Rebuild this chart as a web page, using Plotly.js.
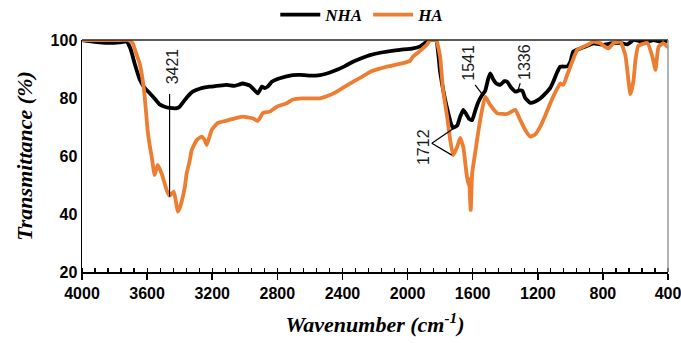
<!DOCTYPE html>
<html>
<head>
<meta charset="utf-8">
<script src="https://cdn.plot.ly/plotly-3.0.1.min.js"></script>
<style>html,body{margin:0;padding:0;background:#fff;}#chart{width:681px;height:343px;}</style>
</head>
<body>
<div id="chart"></div>
<script>
// NHA series (black)
const nhaWavenumber = [4000,3954,3892,3831,3769,3726,3702,3677,3646,3615,3585,3554,3523,3492,3462,3418,3400,3382,3351,3320,3277,3215,3154,3111,3062,3012,2969,2951,2920,2895,2877,2858,2834,2785,2705,2662,2600,2538,2477,2434,2385,2335,2280,2231,2169,2126,2046,1966,1923,1892,1862,1825,1800,1775,1751,1732,1720,1695,1677,1658,1640,1622,1603,1585,1566,1542,1523,1505,1492,1474,1455,1431,1406,1388,1363,1338,1314,1295,1277,1246,1215,1185,1154,1123,1105,1080,1062,1019,1000,982,938,895,858,797,754,692,649,612,569,526,489,446,428,403,400];
const nhaTransmittance = [100,99.6,99.2,99,99.2,99.5,97,92,86.5,83.5,81.7,79.8,77.8,77,76.6,76.5,77,78.3,80.5,82.2,83.2,83.9,84.3,84.5,84.2,85,84.3,83.3,81.6,83.9,83.4,84,85.6,86.8,87.9,88,87.7,87.9,88.8,89.7,91,92.5,93.8,94.8,95.6,96,96.6,97.1,97.8,99,100,100,89,81,75,71,69.7,70.5,73.5,75.9,74.5,72.8,72.4,75.5,78.5,81,82.5,86.5,88.5,86.5,85,84.5,85.8,85.6,83.5,82.2,82.6,82.5,80,78.3,78.8,79.8,81.5,83.5,85.6,89,90.8,90.9,92.5,96,97.1,98,98.8,98.3,98.8,99,98.5,100,99.6,99.4,100,99.4,99,100,99.5];

// HA series (orange)
const haWavenumber = [4000,3892,3769,3720,3702,3689,3665,3646,3628,3615,3597,3585,3572,3554,3535,3511,3492,3480,3462,3437,3425,3412,3400,3388,3369,3357,3338,3326,3295,3265,3246,3234,3215,3203,3166,3111,3062,3012,2951,2920,2889,2846,2803,2742,2705,2643,2538,2477,2434,2385,2335,2280,2231,2126,2028,1985,1966,1935,1905,1880,1862,1825,1800,1782,1757,1738,1720,1695,1677,1658,1640,1634,1625,1622,1612,1603,1585,1554,1523,1492,1449,1388,1338,1308,1277,1246,1215,1185,1154,1123,1092,1062,1043,1019,1000,975,957,895,858,815,791,766,735,692,662,643,631,612,600,582,526,495,477,458,428,403,400];
const haTransmittance = [100,100,100,100,99.5,99,95,92,86.5,80.5,69,64,59.8,53.4,56.9,54,50.5,48.3,46.3,47.7,45,40.8,42,44.2,49,54,58.5,62,65.5,66.7,65.5,63.8,67,69,71.4,72.2,73,73.6,73,72.1,74.8,75.3,77,78.2,79.5,79.9,79.9,81,82.2,83.9,85.6,87.3,89,90.8,92,92.8,94.3,95.7,97.1,98.5,100,100,94.3,82.8,73.6,65.5,60.3,63.2,66.2,63.2,55,52.5,50,52,41.4,54,61,72.4,80.5,77.6,74.7,74.5,75.9,72.4,69,66.7,67.5,70.1,74,78.2,82,85,84.5,88,90.8,94.5,96.6,98.3,99.4,98.9,97.8,97.1,98.9,99.4,94.8,86,81.3,86,93,98,99,94,89.7,97.7,98.9,97.7,98];

const seriesNames = ["NHA", "HA"];
const xTickVals = [4000,3600,3200,2800,2400,2000,1600,1200,800,400];
const yTickVals = [20,40,60,80,100];

// peak labels
const peakLabels = ["3421", "1712", "1541", "1336"];
const peakLabelX = [3443, 1905, 1626, 1277];
const peakLabelY = [90.8, 63.1, 92.3, 92.5];

const serif = "'Liberation Serif', 'Times New Roman', serif";
const sans = "'Liberation Sans', Arial, sans-serif";

const traces = [
  {x: nhaWavenumber, y: nhaTransmittance, name: seriesNames[0], type: "scatter", mode: "lines",
   line: {color: "#000000", width: 3.8, shape: "spline", smoothing: 0.4}},
  {x: haWavenumber, y: haTransmittance, name: seriesNames[1], type: "scatter", mode: "lines",
   line: {color: "#ED7D31", width: 3.8, shape: "spline", smoothing: 0.4}}
];

const annotations = peakLabels.map((t, i) => ({
  x: peakLabelX[i], y: peakLabelY[i], xref: "x", yref: "y", text: t, showarrow: false,
  textangle: -90, font: {family: sans, size: 16, color: "#1a1a1a"}
}));

const lineStyle = {color: "#000000", width: 1.2};
const shapes = [
  {type: "line", xref: "x", yref: "y", x0: 3462, y0: 81.4, x1: 3462, y1: 46, line: lineStyle},
  {type: "line", xref: "x", yref: "y", x0: 1851, y0: 64.4, x1: 1718, y1: 69.5, line: lineStyle},
  {type: "line", xref: "x", yref: "y", x0: 1851, y0: 64.4, x1: 1728, y1: 60.3, line: lineStyle},
  {type: "line", xref: "x", yref: "y", x0: 1585, y0: 84.5, x1: 1537, y1: 81, line: lineStyle},
  {type: "line", xref: "x", yref: "y", x0: 1308, y0: 85.1, x1: 1328, y1: 81.6, line: lineStyle},
  {type: "line", xref: "paper", yref: "paper", x0: 0, y0: 1, x1: 1, y1: 1, line: {color: "#262626", width: 1.5}},
  {type: "line", xref: "paper", yref: "paper", x0: 1, y0: 0, x1: 1, y1: 1, line: {color: "#9a9a9a", width: 1.5}}
];

const layout = {
  width: 681, height: 343,
  margin: {l: 82, r: 13, t: 40, b: 71, autoexpand: false},
  paper_bgcolor: "#ffffff", plot_bgcolor: "#ffffff",
  showlegend: true,
  legend: {orientation: "h", xref: "container", yref: "container", x: 0.532, xanchor: "center", y: 0.956, yanchor: "middle",
           font: {family: serif, size: 17, color: "#000000", weight: "bold", style: "italic"},
           itemwidth: 40, bgcolor: "rgba(0,0,0,0)"},
  xaxis: {
    range: [4000, 400], tickvals: xTickVals, ticktext: xTickVals.map(String),
    showgrid: false, zeroline: false, showline: true, linecolor: "#000000", linewidth: 1.5,
    ticks: "outside", ticklen: 6, tickwidth: 1.5, tickcolor: "#000000",
    ticklabeloverflow: "allow",
    minor: {dtick: 80, tick0: 400, ticks: "inside", ticklen: 4, tickwidth: 1.2, tickcolor: "#000000", showgrid: false},
    tickfont: {family: sans, size: 16, color: "#000000", weight: "bold"},
    title: {text: "Wavenumber (cm<sup>-1</sup>)", standoff: 16,
            font: {family: serif, size: 22, color: "#000000", weight: "bold", style: "italic"}}
  },
  yaxis: {
    range: [20, 100], tickvals: yTickVals, ticktext: yTickVals.map(String),
    showgrid: false, zeroline: false, showline: true, linecolor: "#000000", linewidth: 1.5,
    ticks: "", tickfont: {family: sans, size: 16, color: "#000000", weight: "bold"},
    title: {text: "Transmittance (%)", standoff: 12,
            font: {family: serif, size: 22, color: "#000000", weight: "bold", style: "italic"}}
  },
  annotations: annotations,
  shapes: shapes
};

Plotly.newPlot("chart", traces, layout, {displayModeBar: false, staticPlot: true});
</script>
</body>
</html>
